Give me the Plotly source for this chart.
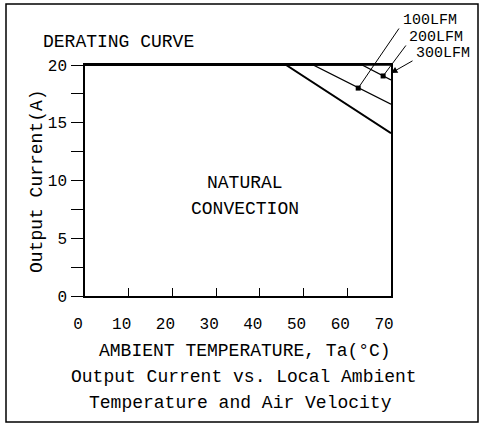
import plotly.graph_objects as go

# ---- data ----
temps_nat = [0, 46.0, 70]
curr_nat = [20, 20, 14.1]
temps_100 = [0, 52.2, 70]
curr_100 = [20, 20, 16.6]
temps_200 = [0, 63.4, 70]
curr_200 = [20, 20, 18.7]
temps_300 = [0, 70]
curr_300 = [20, 20]
x_ticks = [0, 10, 20, 30, 40, 50, 60, 70]
y_ticks = [0, 5, 10, 15, 20]
labels = ["100LFM", "200LFM", "300LFM"]
label_pts_t = [62.5, 68.2, 70.0]
label_pts_c = [18.0, 19.05, 19.3]

FONT = "Liberation Mono"
W, H = 483, 426
L, R, T, B = 85, 92, 65, 130
PW = W - L - R
PH = H - T - B


def px_x(p):
    return (p - L) / PW


def px_y(p):
    return (H - B - p) / PH


def data_px(t, c):
    return L + t / 70 * PW, (H - B) - c / 20 * PH


fig = go.Figure()
for xs, ys, w in [(temps_nat, curr_nat, 2), (temps_100, curr_100, 1.3),
                  (temps_200, curr_200, 1.3), (temps_300, curr_300, 1.3)]:
    fig.add_trace(go.Scatter(x=xs, y=ys, mode="lines",
                             line=dict(color="black", width=w),
                             showlegend=False, hoverinfo="skip", cliponaxis=False))

# small square markers where the 100/200 LFM leaders touch the curves
fig.add_trace(go.Scatter(x=label_pts_t[:2], y=label_pts_c[:2], mode="markers",
                         marker=dict(symbol="square", size=5, color="black"),
                         showlegend=False, hoverinfo="skip", cliponaxis=False))


def txt(text, x, y, size=18, xanchor="center", angle=0):
    return dict(text=text, x=px_x(x), y=px_y(y), xref="paper", yref="paper",
                xanchor=xanchor, yanchor="middle", showarrow=False,
                textangle=angle, font=dict(size=size), borderpad=0)


annotations = [
    txt("DERATING CURVE", 42, 42, xanchor="left"),
    dict(text="NATURAL", x=36.6, y=9.8, xref="x", yref="y", showarrow=False,
         xanchor="center", yanchor="middle", font=dict(size=18)),
    dict(text="CONVECTION", x=36.6, y=7.5, xref="x", yref="y", showarrow=False,
         xanchor="center", yanchor="middle", font=dict(size=18)),
    txt("AMBIENT TEMPERATURE, Ta(°C)", 245, 351),
    txt("Output Current vs. Local Ambient", 244, 377),
    txt("Temperature and Air Velocity", 240, 403),
    txt("Output Current(A)", 37, 181, size=18, angle=-90),
]

# leader labels and arrows
label_pos = [(402, 20), (408, 37), (415, 54)]
tails = [(400, 27), (407, 44), (414, 60)]
heads = [0, 0, 2]
for lab, t, c, (lx, ly), (tx, ty), hd in zip(labels, label_pts_t, label_pts_c,
                                              label_pos, tails, heads):
    annotations.append(txt(lab, lx, ly, size=15, xanchor="left"))
    hx, hy = data_px(t, c)
    annotations.append(dict(text="", x=t, y=c, xref="x", yref="y",
                            ax=tx - hx, ay=ty - hy, showarrow=True, arrowhead=hd,
                            arrowsize=1.3, arrowwidth=1, arrowcolor="black",
                            standoff=0))

shapes = [
    dict(type="rect", xref="paper", yref="paper", x0=px_x(6), x1=px_x(478),
         y0=px_y(422), y1=px_y(4), line=dict(color="black", width=1.5)),
    dict(type="line", xref="x", yref="y", x0=0, x1=0, y0=0, y1=-9,
         ysizemode="pixel", yanchor=0, line=dict(color="black", width=1.5)),
]

fig.update_layout(
    width=W, height=H,
    margin=dict(l=L, r=R, t=T, b=B),
    paper_bgcolor="white", plot_bgcolor="white",
    font=dict(family=FONT, color="black", size=14),
    annotations=annotations, shapes=shapes,
    xaxis=dict(range=[0, 70], tickvals=x_ticks, ticktext=[str(v) for v in x_ticks],
               showgrid=False, zeroline=False, showline=True, mirror=True,
               linecolor="black", linewidth=1.5, ticks="inside", ticklen=8,
               tickcolor="black", tickwidth=1.2, ticklabelshift=-7,
               ticklabelstandoff=12,
               tickfont=dict(size=16, family=FONT), fixedrange=True),
    yaxis=dict(range=[0, 20], tickvals=y_ticks, ticktext=[str(v) for v in y_ticks],
               showgrid=False, zeroline=False, showline=True, mirror=True,
               linecolor="black", linewidth=1.5, ticks="outside", ticklen=12,
               tickcolor="black", tickwidth=1.2, ticklabelstandoff=1,
               minor=dict(dtick=2.5, tick0=0, ticks="outside", ticklen=12,
                          tickcolor="black", tickwidth=1.2),
               tickfont=dict(size=16, family=FONT), fixedrange=True),
)

fig.write_html("out.html", config={"displayModeBar": False},
               post_script="document.body.style.margin='0';document.body.style.overflow='hidden';")
